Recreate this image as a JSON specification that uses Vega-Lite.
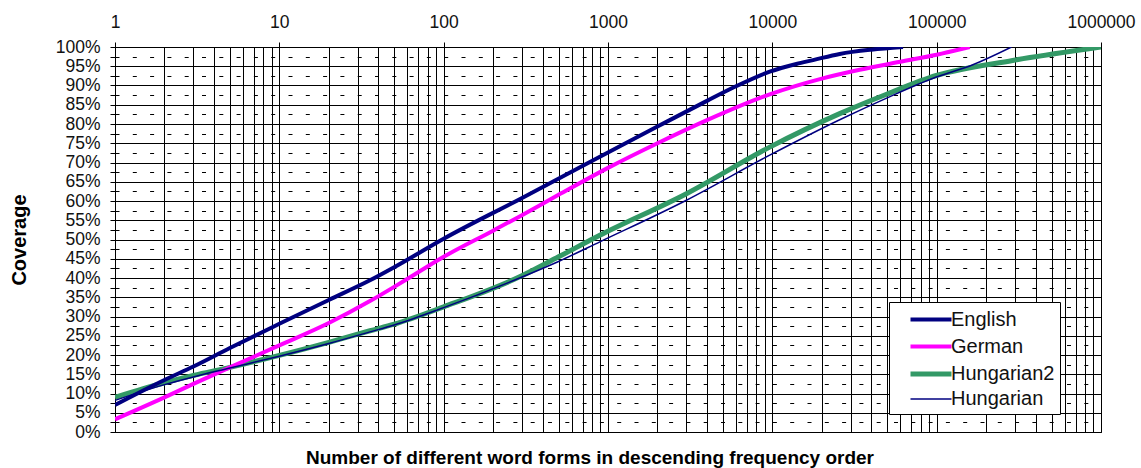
{
  "$schema": "https://vega.github.io/schema/vega-lite/v6.json",
  "width": 986,
  "height": 385,
  "autosize": {"type": "none"},
  "padding": {"left": 115, "top": 47, "right": 40, "bottom": 36},
  "background": "white",
  "config": {
    "font": "Liberation Sans",
    "view": {"stroke": "#000", "strokeWidth": 1}
  },
  "title": {
    "text": "Number of different word forms in descending frequency order",
    "orient": "bottom",
    "fontSize": 19,
    "fontWeight": "bold",
    "font": "Liberation Sans",
    "color": "#000",
    "offset": 8,
    "dx": -18
  },
  "data": {
    "values": [
      {"lang": "Hungarian2", "n": 1, "cov": 9.0},
      {"lang": "Hungarian2", "n": 2, "cov": 12.8},
      {"lang": "Hungarian2", "n": 3, "cov": 14.7},
      {"lang": "Hungarian2", "n": 5, "cov": 16.8},
      {"lang": "Hungarian2", "n": 10, "cov": 19.9},
      {"lang": "Hungarian2", "n": 20, "cov": 23.3},
      {"lang": "Hungarian2", "n": 35.6, "cov": 26.3},
      {"lang": "Hungarian2", "n": 50, "cov": 28.0},
      {"lang": "Hungarian2", "n": 100, "cov": 32.5},
      {"lang": "Hungarian2", "n": 290, "cov": 40.3},
      {"lang": "Hungarian2", "n": 500, "cov": 45.5},
      {"lang": "Hungarian2", "n": 892, "cov": 51.1},
      {"lang": "Hungarian2", "n": 3000, "cov": 61.9},
      {"lang": "Hungarian2", "n": 9640, "cov": 74.0},
      {"lang": "Hungarian2", "n": 25700, "cov": 82.7},
      {"lang": "Hungarian2", "n": 50000, "cov": 87.8},
      {"lang": "Hungarian2", "n": 99500, "cov": 92.6},
      {"lang": "Hungarian2", "n": 290000, "cov": 96.5},
      {"lang": "Hungarian2", "n": 1000000, "cov": 100},
      {"lang": "German", "n": 1, "cov": 3.3},
      {"lang": "German", "n": 2, "cov": 9.0},
      {"lang": "German", "n": 3, "cov": 12.5},
      {"lang": "German", "n": 5, "cov": 16.8},
      {"lang": "German", "n": 10, "cov": 22.5},
      {"lang": "German", "n": 20, "cov": 28.3},
      {"lang": "German", "n": 35.6, "cov": 34.0},
      {"lang": "German", "n": 50, "cov": 37.7},
      {"lang": "German", "n": 70, "cov": 41.5},
      {"lang": "German", "n": 100, "cov": 45.5},
      {"lang": "German", "n": 200, "cov": 52.3},
      {"lang": "German", "n": 290, "cov": 56.0},
      {"lang": "German", "n": 500, "cov": 61.6},
      {"lang": "German", "n": 1000, "cov": 68.6},
      {"lang": "German", "n": 2000, "cov": 75.0},
      {"lang": "German", "n": 4000, "cov": 81.0},
      {"lang": "German", "n": 9640, "cov": 87.7},
      {"lang": "German", "n": 20000, "cov": 91.8},
      {"lang": "German", "n": 34000, "cov": 94.1},
      {"lang": "German", "n": 62400, "cov": 96.3},
      {"lang": "German", "n": 100000, "cov": 98.0},
      {"lang": "German", "n": 159000, "cov": 100},
      {"lang": "English", "n": 1, "cov": 7.0},
      {"lang": "English", "n": 2, "cov": 13.5},
      {"lang": "English", "n": 3, "cov": 17.0},
      {"lang": "English", "n": 5, "cov": 21.8},
      {"lang": "English", "n": 10, "cov": 28.1},
      {"lang": "English", "n": 20, "cov": 34.3},
      {"lang": "English", "n": 35.6, "cov": 39.4},
      {"lang": "English", "n": 50, "cov": 42.8},
      {"lang": "English", "n": 100, "cov": 50.2},
      {"lang": "English", "n": 300, "cov": 60.8},
      {"lang": "English", "n": 813, "cov": 70.6},
      {"lang": "English", "n": 1972, "cov": 79.2},
      {"lang": "English", "n": 4000, "cov": 86.0},
      {"lang": "English", "n": 5750, "cov": 89.4},
      {"lang": "English", "n": 9640, "cov": 93.6},
      {"lang": "English", "n": 14000, "cov": 95.6},
      {"lang": "English", "n": 17700, "cov": 96.6},
      {"lang": "English", "n": 25700, "cov": 98.2},
      {"lang": "English", "n": 40000, "cov": 99.3},
      {"lang": "English", "n": 62400, "cov": 100},
      {"lang": "Hungarian", "n": 1, "cov": 8.2},
      {"lang": "Hungarian", "n": 2, "cov": 12.3},
      {"lang": "Hungarian", "n": 3, "cov": 14.3},
      {"lang": "Hungarian", "n": 5, "cov": 16.6},
      {"lang": "Hungarian", "n": 10, "cov": 19.7},
      {"lang": "Hungarian", "n": 20, "cov": 23.0},
      {"lang": "Hungarian", "n": 35.6, "cov": 26.0},
      {"lang": "Hungarian", "n": 50, "cov": 27.8},
      {"lang": "Hungarian", "n": 100, "cov": 32.3},
      {"lang": "Hungarian", "n": 290, "cov": 40.0},
      {"lang": "Hungarian", "n": 500, "cov": 44.3},
      {"lang": "Hungarian", "n": 892, "cov": 49.4},
      {"lang": "Hungarian", "n": 3000, "cov": 60.2},
      {"lang": "Hungarian", "n": 9640, "cov": 71.9},
      {"lang": "Hungarian", "n": 25700, "cov": 81.1},
      {"lang": "Hungarian", "n": 50000, "cov": 86.8},
      {"lang": "Hungarian", "n": 99500, "cov": 92.2},
      {"lang": "Hungarian", "n": 166000, "cov": 95.4},
      {"lang": "Hungarian", "n": 285000, "cov": 100}
    ]
  },
  "mark": {"type": "line", "interpolate": "monotone", "clip": true},
  "encoding": {
    "x": {
      "field": "n",
      "type": "quantitative",
      "scale": {"type": "log", "domain": [1, 1000000], "nice": false},
      "axis": {
        "orient": "top",
        "title": null,
        "values": [1,2,3,4,5,6,7,8,9,10,20,30,40,50,60,70,80,90,100,200,300,400,500,600,700,800,900,1000,2000,3000,4000,5000,6000,7000,8000,9000,10000,20000,30000,40000,50000,60000,70000,80000,90000,100000,200000,300000,400000,500000,600000,700000,800000,900000,1000000],
        "labelExpr": "indexof([1,10,100,1000,10000,100000,1000000], datum.value) >= 0 ? format(datum.value, 'd') : ''",
        "labelOverlap": false,
        "labelFlush": false,
        "labelFontSize": 17.5,
        "labelColor": "#111",
        "labelPadding": 11,
        "tickSize": 5,
        "tickColor": "#000",
        "tickOpacity": {"condition": {"test": "indexof([1,10,100,1000,10000,100000,1000000], datum.value) < 0", "value": 0}, "value": 1},
        "grid": true,
        "gridColor": "#000",
        "gridOpacity": 1,
        "gridWidth": 1,
        "domainColor": "#000"
      }
    },
    "y": {
      "field": "cov",
      "type": "quantitative",
      "scale": {"domain": [0, 100], "nice": false},
      "axis": {
        "title": "Coverage",
        "titleFontSize": 20,
        "titleFontWeight": "bold",
        "titleColor": "#000",
        "titlePadding": 26,
        "values": [0,2.5,5,7.5,10,12.5,15,17.5,20,22.5,25,27.5,30,32.5,35,37.5,40,42.5,45,47.5,50,52.5,55,57.5,60,62.5,65,67.5,70,72.5,75,77.5,80,82.5,85,87.5,90,92.5,95,97.5,100],
        "labelExpr": "datum.value % 5 == 0 ? datum.value + '%' : ''",
        "labelOverlap": false,
        "labelFontSize": 17.5,
        "labelColor": "#111",
        "labelPadding": 10,
        "tickSize": 5,
        "tickColor": "#000",
        "grid": true,
        "gridColor": "#000",
        "gridOpacity": 1,
        "gridWidth": 1,
        "gridDash": {"condition": {"test": "datum.value % 5 != 0", "value": [4, 13.3]}, "value": []},
        "domainColor": "#000"
      }
    },
    "color": {
      "field": "lang",
      "type": "nominal",
      "scale": {
        "domain": ["English", "German", "Hungarian2", "Hungarian"],
        "range": ["#000080", "#FF00FF", "#339966", "#000080"]
      },
      "legend": {
        "title": null,
        "orient": "none",
        "legendX": 774,
        "legendY": 255,
        "direction": "vertical",
        "fillColor": "white",
        "strokeColor": "#000",
        "padding": 5,
        "symbolOffset": 24,
        "symbolType": "M-2,0L2,0",
        "symbolSize": 420,
        "labelFontSize": 20,
        "labelColor": "#111",
        "labelOffset": 7,
        "rowPadding": 4
      }
    },
    "strokeWidth": {
      "field": "lang",
      "type": "nominal",
      "scale": {
        "type": "ordinal",
        "domain": ["English", "German", "Hungarian2", "Hungarian"],
        "range": [4, 4, 5, 1.5]
      },
      "legend": {
        "title": null,
        "orient": "none",
        "legendX": 774,
        "legendY": 255,
        "direction": "vertical",
        "fillColor": "white",
        "strokeColor": "#000",
        "padding": 5,
        "symbolOffset": 24,
        "symbolType": "M-2,0L2,0",
        "symbolSize": 420,
        "labelFontSize": 20,
        "labelColor": "#111",
        "labelOffset": 7,
        "rowPadding": 4
      }
    }
  }
}
